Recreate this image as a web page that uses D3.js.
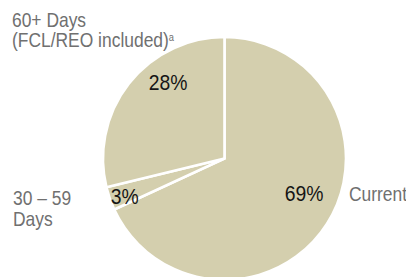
<!DOCTYPE html>
<html>
<head>
<meta charset="utf-8">
<script src="https://cdn.jsdelivr.net/npm/d3@7"></script>
<style>
  body { margin: 0; background: #fff; }
  text { font-family: "Liberation Sans", Arial, sans-serif; }
</style>
</head>
<body>
<div id="chart"></div>
<script>
'use strict';

// slice shares as drawn (clockwise from 12 o'clock)
var categories = ["Current", "30 – 59 Days", "60+ Days"];
var shares = [68.1, 3.1, 28.8];
var pctLabels = ["69%", "3%", "28%"];

var width = 406, height = 277;
var cx = 224.5, cy = 158.5, radius = 121.5;
var sliceColor = "#d4cfae";
var labelColor = "#707070";
var squeeze = 0.85;   // the original type is a narrow face

// where each percent sits: [angle in degrees clockwise from top, distance from centre]
var pctPlace = [[113.4, 86.8], [249.2, 106.8], [323.4, 94.7]];

var svg = d3.select("#chart").append("svg")
  .attr("width", width)
  .attr("height", height);

var g = svg.append("g")
  .attr("transform", "translate(" + cx + "," + cy + ")");

var pie = d3.pie().sort(null).value(function(d) { return d; });
var arc = d3.arc().innerRadius(0).outerRadius(radius);

var arcs = pie(shares);

g.selectAll("path.slice")
  .data(arcs)
  .enter().append("path")
  .attr("class", "slice")
  .attr("d", arc)
  .attr("fill", sliceColor)
  .attr("stroke", "#fff")
  .attr("stroke-width", 2.6)
  .attr("stroke-linejoin", "miter");

g.selectAll("g.pct")
  .data(arcs)
  .enter().append("g")
  .attr("class", "pct")
  .attr("transform", function(d, i) {
    var a = pctPlace[i][0] * Math.PI / 180, r = pctPlace[i][1];
    return "translate(" + (r * Math.sin(a)) + "," + (-r * Math.cos(a)) + ") scale(0.88,1)";
  })
  .append("text")
  .attr("text-anchor", "middle")
  .attr("dominant-baseline", "central")
  .style("font-size", "22px")
  .style("fill", "#151515")
  .text(function(d, i) { return pctLabels[i]; });

// category labels outside the pie
function label(x, y, lines, lineGap) {
  var t = svg.append("g")
    .attr("transform", "translate(" + x + "," + y + ") scale(" + squeeze + ",1)")
    .append("text")
    .style("font-size", "20.5px")
    .style("fill", labelColor);
  lines.forEach(function(s, i) {
    t.append("tspan").attr("x", 0).attr("dy", i ? lineGap : 0).text(s);
  });
  return t;
}

label(349, 201, [categories[0]], 0);
label(13, 205, ["30 – 59", "Days"], 21);
var topLabel = label(12, 27, [categories[2], "(FCL/REO included)"], 20);
topLabel.append("tspan").attr("dy", -6).style("font-size", "11px").text("a");
</script>
</body>
</html>
